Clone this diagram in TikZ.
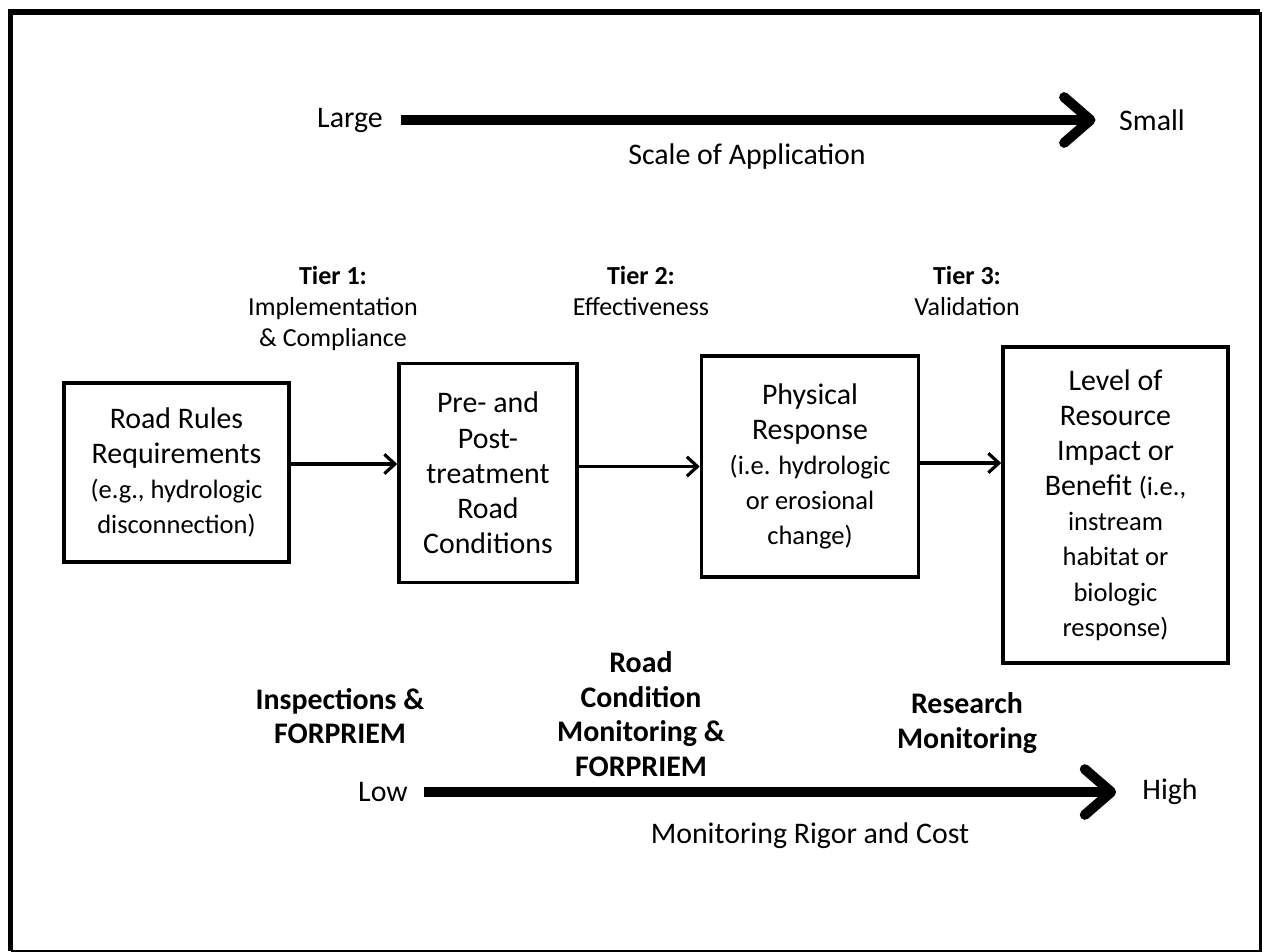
\documentclass[tikz,border=0pt]{standalone}
\usepackage{fontspec}
\setmainfont{Carlito}
\usetikzlibrary{arrows.meta}

\newcommand{\aside}{\fontsize{15.1}{20}\selectfont}

\tikzset{
  stage/.style={draw, line width=2pt, align=center, inner sep=2pt, font=\fontsize{17}{20}\selectfont},
  flow/.style={-{Straight Barb[length=6pt,width=11pt]}, line width=1.8pt},
  bigarrow/.style={-{Straight Barb[length=15pt,width=26pt,round]}, line width=5.7pt},
  lbl/.style={font=\fontsize{17}{20}\selectfont},
  tier/.style={align=center, anchor=north, inner sep=0pt, font=\fontsize{14.8}{17.6}\selectfont},
  method/.style={align=center, font=\bfseries\fontsize{17}{19.6}\selectfont}
}

\begin{document}
\begin{tikzpicture}
\useasboundingbox (0,0) rectangle (25.3,-19.04);
\draw[line width=3.4pt] (0.21,-19.02) -- (0.21,-0.24) -- (25.2,-0.24);
\draw[line width=1.7pt] (25.2,-0.24) -- (25.2,-19.02) -- (0.21,-19.02);

\node[lbl] (large) at (7.0,-2.4) {Large};
\node[lbl] (small) at (23.04,-2.4) {Small};
\draw[bigarrow, shorten <=0.24cm, shorten >=0.35cm] (large) -- (small);
\node[lbl] (scale) at (14.94,-3.14) {Scale of Application};

\node[tier] (tier1) at (6.66,-5.32) {\textbf{Tier 1:}\\Implementation\\\& Compliance};
\node[tier] (tier2) at (12.82,-5.32) {\textbf{Tier 2:}\\Effectiveness};
\node[tier] (tier3) at (19.34,-5.32) {\textbf{Tier 3:}\\Validation};

\node[stage, minimum width=4.5cm, minimum height=3.58cm] (rules) at (3.53,-9.45) {Road Rules\\Requirements\\\aside (e.g., hydrologic\\\aside disconnection)};
\node[stage, minimum width=3.56cm, minimum height=4.38cm] (treat) at (9.76,-9.46) {Pre- and\\Post-\\treatment\\Road\\Conditions};
\node[stage, minimum width=4.34cm, minimum height=4.42cm] (phys) at (16.2,-9.33) {Physical\\Response\\\aside (i.e. hydrologic\\\aside or erosional\\\aside change)};
\node[stage, minimum width=4.5cm, minimum height=6.32cm] (impact) at (22.31,-10.1) {Level of\\Resource\\Impact or\\Benefit {\aside (i.e.,}\\\aside instream\\\aside habitat or\\\aside biologic\\\aside response)};

\draw[flow] (rules.east) ++(0,0.17) coordinate (a1) -- (a1 -| treat.west);
\draw[flow] (treat.east) ++(0,0.13) coordinate (a2) -- (a2 -| phys.west);
\draw[flow] (phys.east) ++(0,0.07) coordinate (a3) -- (a3 -| impact.west);

\node[method] (insp) at (6.8,-14.32) {Inspections \&\\FORPRIEM};
\node[method] (rcm) at (12.82,-14.28) {Road\\Condition\\Monitoring \&\\FORPRIEM};
\node[method] (research) at (19.34,-14.46) {Research\\Monitoring};

\node[lbl] (low) at (7.66,-15.84) {Low};
\node[lbl] (high) at (23.4,-15.84) {High};
\draw[bigarrow, shorten <=0.2cm, shorten >=0.4cm] (low) -- (high);
\node[lbl] (rigor) at (16.2,-16.72) {Monitoring Rigor and Cost};
\end{tikzpicture}
\end{document}
